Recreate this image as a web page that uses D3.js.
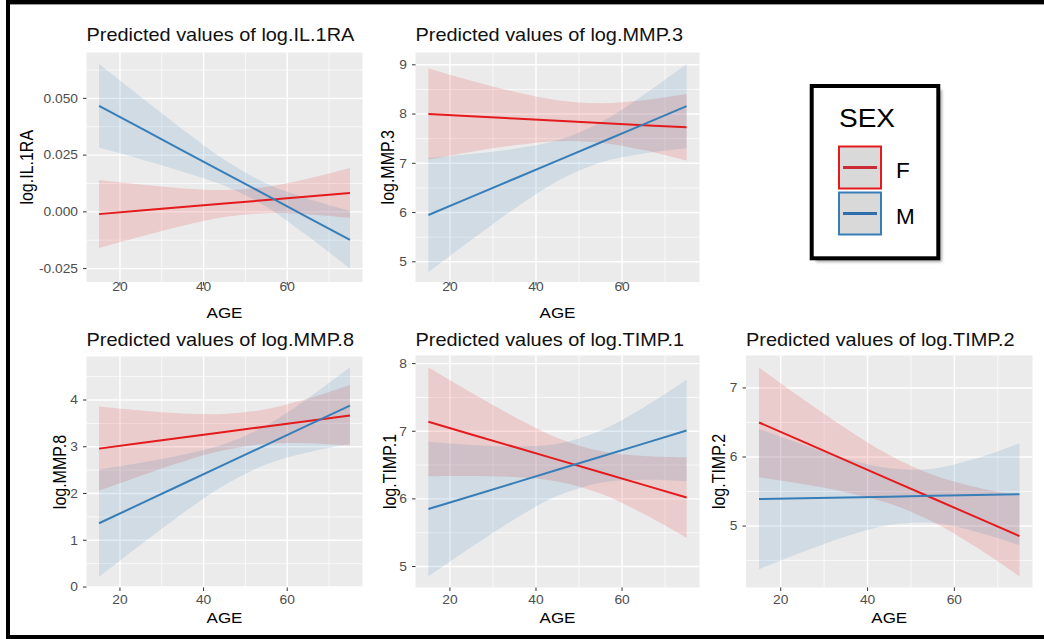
<!DOCTYPE html>
<html><head><meta charset="utf-8">
<script src="https://cdn.jsdelivr.net/npm/d3@7"></script>
<style>
body{margin:0;background:#fff;}
svg{display:block;}
text{font-family:'Liberation Sans',Arial,Helvetica,sans-serif;}
</style>
</head><body>
<svg id="c" width="1044" height="639"></svg>
<script>
// ---------------- data ----------------
const ages = [15, 25, 35, 45, 55, 65, 75];
const sexes = ["F", "M"];
const xTicks = [20, 40, 60];
const xDomain = [12, 78];

// log.IL.1RA
const il1raF_fit = [-0.0010, 0.00055, 0.0021, 0.00365, 0.0052, 0.00675, 0.0083];
const il1raF_lo  = [-0.0160, -0.0109, -0.0061, -0.0023, -0.0006, -0.0011, -0.0027];
const il1raF_hi  = [0.0140, 0.0120, 0.0103, 0.0096, 0.0110, 0.0146, 0.0193];
const il1raM_fit = [0.0467, 0.0369, 0.0270, 0.0172, 0.0074, -0.0025, -0.0123];
const il1raM_lo  = [0.0283, 0.0232, 0.0177, 0.0115, 0.0023, -0.0108, -0.0250];
const il1raM_hi  = [0.0651, 0.0506, 0.0363, 0.0229, 0.0125, 0.0058, 0.0004];
const il1raTicks = [-0.025, 0, 0.025, 0.05];
const il1raDomain = [-0.0309, 0.0702];

// log.MMP.3
const mmp3F_fit = [8.00, 7.955, 7.91, 7.865, 7.82, 7.775, 7.73];
const mmp3F_lo  = [7.075, 7.234, 7.369, 7.45, 7.42, 7.271, 7.055];
const mmp3F_hi  = [8.925, 8.676, 8.451, 8.28, 8.22, 8.279, 8.405];
const mmp3M_fit = [5.95, 6.318, 6.687, 7.055, 7.423, 7.792, 8.16];
const mmp3M_lo  = [4.79, 5.446, 6.079, 6.641, 7.016, 7.198, 7.305];
const mmp3M_hi  = [7.11, 7.19, 7.295, 7.469, 7.83, 8.386, 9.015];
const mmp3Ticks = [5, 6, 7, 8, 9];
const mmp3Domain = [4.59, 9.25];

// log.MMP.8
const mmp8F_fit = [2.96, 3.078, 3.197, 3.315, 3.433, 3.552, 3.67];
const mmp8F_lo  = [2.06, 2.381, 2.681, 2.928, 3.062, 3.074, 3.02];
const mmp8F_hi  = [3.86, 3.775, 3.713, 3.702, 3.804, 4.03, 4.32];
const mmp8M_fit = [1.364, 1.783, 2.203, 2.622, 3.041, 3.461, 3.88];
const mmp8M_lo  = [0.214, 0.907, 1.578, 2.183, 2.624, 2.883, 3.06];
const mmp8M_hi  = [2.514, 2.659, 2.828, 3.061, 3.458, 4.039, 4.70];
const mmp8Ticks = [0, 1, 2, 3, 4];
const mmp8Domain = [-0.01, 4.93];

// log.TIMP.1
const timp1F_fit = [7.14, 6.953, 6.767, 6.58, 6.393, 6.207, 6.02];
const timp1F_lo  = [6.335, 6.338, 6.323, 6.258, 6.079, 5.78, 5.425];
const timp1F_hi  = [7.945, 7.568, 7.211, 6.902, 6.707, 6.634, 6.615];
const timp1M_fit = [5.85, 6.043, 6.237, 6.43, 6.623, 6.817, 7.01];
const timp1M_lo  = [4.855, 5.288, 5.699, 6.045, 6.24, 6.283, 6.26];
const timp1M_hi  = [6.845, 6.798, 6.775, 6.815, 7.006, 7.351, 7.76];
const timp1Ticks = [5, 6, 7, 8];
const timp1Domain = [4.69, 8.12];

// log.TIMP.2
const timp2F_fit = [6.50, 6.226, 5.952, 5.677, 5.403, 5.129, 4.855];
const timp2F_lo  = [5.705, 5.608, 5.491, 5.326, 5.063, 4.695, 4.27];
const timp2F_hi  = [7.295, 6.844, 6.413, 6.028, 5.743, 5.563, 5.44];
const timp2M_fit = [5.39, 5.402, 5.413, 5.425, 5.437, 5.448, 5.46];
const timp2M_lo  = [4.375, 4.623, 4.848, 5.014, 5.043, 4.919, 4.725];
const timp2M_hi  = [6.405, 6.181, 5.978, 5.836, 5.831, 5.977, 6.195];
const timp2Ticks = [5, 6, 7];
const timp2Domain = [4.11, 7.47];

// ---------------- styling ----------------
const lineColor = {F: "#e41a1c", M: "#377eb8"};
const keyLineColor = {F: "#cc2b33", M: "#2f6ead"};
const SX = 1.12; // horizontal stretch of the original raster text

const fmt3 = v => d3.format(".3f")(v).replace("\u2212", "-");
const fmtD = d3.format("d");

const panels = [
  {title: "Predicted values of log.IL.1RA", ylab: "log.IL.1RA", domain: il1raDomain, ticks: il1raTicks, fmt: fmt3,
   F: [il1raF_fit, il1raF_lo, il1raF_hi], M: [il1raM_fit, il1raM_lo, il1raM_hi],
   l: 86.5, r: 362.5, t: 52.5, b: 282, titleY: 40.7, ylabX: 33, xtickY: 291, xlabY: 318.3},
  {title: "Predicted values of log.MMP.3", ylab: "log.MMP.3", domain: mmp3Domain, ticks: mmp3Ticks, fmt: fmtD,
   F: [mmp3F_fit, mmp3F_lo, mmp3F_hi], M: [mmp3M_fit, mmp3M_lo, mmp3M_hi],
   l: 415.5, r: 699.5, t: 52.5, b: 282, titleY: 40.7, ylabX: 394, xtickY: 291, xlabY: 318.3},
  {title: "Predicted values of log.MMP.8", ylab: "log.MMP.8", domain: mmp8Domain, ticks: mmp8Ticks, fmt: fmtD,
   F: [mmp8F_fit, mmp8F_lo, mmp8F_hi], M: [mmp8M_fit, mmp8M_lo, mmp8M_hi],
   l: 86.5, r: 362.5, t: 356.5, b: 587.5, titleY: 345.5, ylabX: 66, xtickY: 603.5, xlabY: 622.5},
  {title: "Predicted values of log.TIMP.1", ylab: "log.TIMP.1", domain: timp1Domain, ticks: timp1Ticks, fmt: fmtD,
   F: [timp1F_fit, timp1F_lo, timp1F_hi], M: [timp1M_fit, timp1M_lo, timp1M_hi],
   l: 415.5, r: 699.5, t: 355.5, b: 587.5, titleY: 345.5, ylabX: 396, xtickY: 603.5, xlabY: 622.5},
  {title: "Predicted values of log.TIMP.2", ylab: "log.TIMP.2", domain: timp2Domain, ticks: timp2Ticks, fmt: fmtD,
   F: [timp2F_fit, timp2F_lo, timp2F_hi], M: [timp2M_fit, timp2M_lo, timp2M_hi],
   l: 746, r: 1032.5, t: 355.5, b: 587.5, titleY: 345.5, ylabX: 724.5, xtickY: 603.5, xlabY: 622.5}
];

const svg = d3.select("#c");

function txt(g, x, y, s, size, opts = {}) {
  const t = g.append("text")
    .attr("transform", `translate(${x},${y}) scale(${SX},1)` + (opts.rot ? " rotate(-90)" : ""))
    .attr("font-size", size)
    .attr("fill", opts.fill || "#000")
    .attr("text-anchor", opts.anchor || "start")
    .text(s);
  return t;
}

function minorOf(ticks, dom) {
  const step = ticks[1] - ticks[0];
  const out = [];
  for (let i = -1; i < ticks.length; i++) {
    const v = (i < 0 ? ticks[0] - step / 2 : ticks[i] + step / 2);
    if (v > dom[0] && v < dom[1]) out.push(v);
  }
  return out;
}

panels.forEach(p => {
  const g = svg.append("g");
  const x = d3.scaleLinear().domain(xDomain).range([p.l, p.r]);
  const y = d3.scaleLinear().domain(p.domain).range([p.b, p.t]);

  g.append("rect").attr("x", p.l).attr("y", p.t)
    .attr("width", p.r - p.l).attr("height", p.b - p.t).attr("fill", "#ebebeb");

  // minor grid
  const xMinor = minorOf(xTicks, xDomain);
  const yMinor = minorOf(p.ticks, p.domain);
  g.selectAll(null).data(xMinor).enter().append("line")
    .attr("x1", d => x(d)).attr("x2", d => x(d)).attr("y1", p.t).attr("y2", p.b)
    .attr("stroke", "#fff").attr("stroke-width", 0.7);
  g.selectAll(null).data(yMinor).enter().append("line")
    .attr("y1", d => y(d)).attr("y2", d => y(d)).attr("x1", p.l).attr("x2", p.r)
    .attr("stroke", "#fff").attr("stroke-width", 0.7);
  // major grid
  g.selectAll(null).data(xTicks).enter().append("line")
    .attr("x1", d => x(d)).attr("x2", d => x(d)).attr("y1", p.t).attr("y2", p.b)
    .attr("stroke", "#fff").attr("stroke-width", 1.4);
  g.selectAll(null).data(p.ticks).enter().append("line")
    .attr("y1", d => y(d)).attr("y2", d => y(d)).attr("x1", p.l).attr("x2", p.r)
    .attr("stroke", "#fff").attr("stroke-width", 1.4);

  // ribbons
  sexes.forEach(s => {
    const [fit, lo, hi] = p[s];
    const rows = ages.map((a, i) => ({a, lo: lo[i], hi: hi[i]}));
    const area = d3.area().x(d => x(d.a)).y0(d => y(d.lo)).y1(d => y(d.hi))
      .curve(d3.curveCatmullRom);
    g.append("path").datum(rows).attr("d", area)
      .attr("fill", lineColor[s]).attr("fill-opacity", 0.15);
  });
  // lines
  sexes.forEach(s => {
    const [fit] = p[s];
    const rows = ages.map((a, i) => ({a, v: fit[i]}));
    const line = d3.line().x(d => x(d.a)).y(d => y(d.v));
    g.append("path").datum(rows).attr("d", line)
      .attr("fill", "none").attr("stroke", lineColor[s]).attr("stroke-width", 2);
  });

  // axes ticks
  g.selectAll(null).data(xTicks).enter().append("line")
    .attr("x1", d => x(d)).attr("x2", d => x(d)).attr("y1", p.b).attr("y2", p.b + 3.5)
    .attr("stroke", "#333").attr("stroke-width", 1);
  g.selectAll(null).data(p.ticks).enter().append("line")
    .attr("y1", d => y(d)).attr("y2", d => y(d)).attr("x1", p.l - 3.5).attr("x2", p.l)
    .attr("stroke", "#333").attr("stroke-width", 1);

  xTicks.forEach(v => txt(g, x(v), p.xtickY, fmtD(v), 12.3, {anchor: "middle", fill: "#4d4d4d"}));
  p.ticks.forEach(v => txt(g, p.l - 8.5, y(v) + 4.3, p.fmt(v), 12.3, {anchor: "end", fill: "#4d4d4d"}));

  txt(g, p.l, p.titleY, p.title, 17.8, {fill: "#111"});
  txt(g, (p.l + p.r) / 2, p.xlabY, "AGE", 15.2, {anchor: "middle"});
  // rotated y label
  g.append("text")
    .attr("transform", `translate(${p.ylabX},${(p.t + p.b) / 2}) scale(${SX},1) rotate(-90)`)
    .attr("font-size", 16).attr("text-anchor", "middle").attr("fill", "#000")
    .text(p.ylab);
});

// ---------------- legend ----------------
const defs = svg.append("defs");
defs.append("filter").attr("id", "sh").attr("x", "-20%").attr("y", "-20%").attr("width", "140%").attr("height", "140%")
  .append("feGaussianBlur").attr("stdDeviation", 1.8);
const lg = svg.append("g");
lg.append("rect").attr("x", 816).attr("y", 90).attr("width", 126).attr("height", 172)
  .attr("fill", "#666").attr("opacity", 0.55).attr("filter", "url(#sh)");
lg.append("rect").attr("x", 811.7).attr("y", 86).attr("width", 126.6).attr("height", 172.3)
  .attr("fill", "#fff").attr("stroke", "#000").attr("stroke-width", 4);
txt(lg, 839, 126.7, "SEX", 25);
const keyY = {F: 146.5, M: 192.5};
sexes.forEach(s => {
  lg.append("rect").attr("x", 839).attr("y", keyY[s]).attr("width", 42).attr("height", 42)
    .attr("fill", "#d9d9d9").attr("stroke", lineColor[s]).attr("stroke-width", 2);
  lg.append("line").attr("x1", 843).attr("x2", 877).attr("y1", keyY[s] + 21).attr("y2", keyY[s] + 21)
    .attr("stroke", keyLineColor[s]).attr("stroke-width", 3.2);
  lg.append("text").attr("x", 896).attr("y", keyY[s] + 31).attr("font-size", 22.5).text(s);
});

// ---------------- outer frame ----------------
svg.append("rect").attr("x", 8).attr("y", 2).attr("width", 1045).attr("height", 635)
  .attr("fill", "none").attr("stroke", "#000").attr("stroke-width", 4);
svg.append("line").attr("x1", 10).attr("x2", 1044).attr("y1", 4.5).attr("y2", 4.5)
  .attr("stroke", "#999").attr("stroke-width", 1);
</script>
</body></html>
